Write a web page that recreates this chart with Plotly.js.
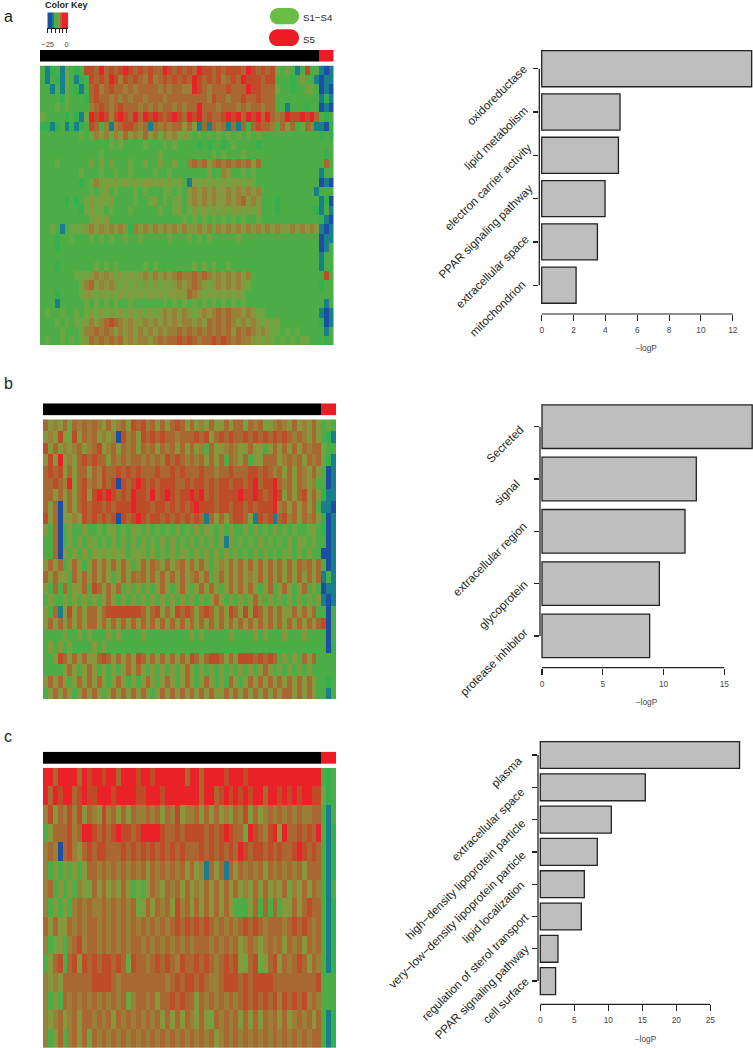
<!DOCTYPE html>
<html><head><meta charset="utf-8">
<script src="https://cdn.plot.ly/plotly-3.0.1.min.js"></script>
<style>html,body{margin:0;padding:0;background:#fff}#g{width:753px;height:1048px}</style>
</head><body><div id="g"></div>
<script>
// Heat maps: each digit is a colour level (0 blue ... 3 green ... 7 brown ... 9 red)
var heatA = [
"3123143238 8797878987 8787798787 8798878788 8798787843 5313833101",
"3132143123 8787986878 7686787878 7987878678 7988878833 3235331011",
"3313143213 7867877676 7777676776 6987677787 7798877743 3233543010",
"3333243332 7877676767 7677767777 7777687767 7877877733 3333333121",
"3334343333 6787678777 6767677676 7797776777 6767767733 1333233010",
"4333323214 9898689879 7989878987 9897877898 9798979767 9889897323",
"2212312123 8736167887 6717676775 7517176717 1737877637 5734761102",
"3333333343 4656465756 5756465645 4343434343 4343433333 3333333232",
"3333333333 3333434333 3433343433 3323233234 3333233333 3333333333",
"3333333333 3343333333 3333433333 3333343433 3433333333 3333333323",
"3334333333 5353533343 3533533533 6767567676 7675733333 3333333373",
"3333333343 3343343343 3334334333 3333533653 3434333333 3333333133",
"3333333323 4645454545 4554545453 1545454545 5454333333 3333333010",
"3333333333 4345343334 3433344343 5656565565 6565633333 3333331333",
"3333323234 5454533334 3345343453 5656565565 6756533323 3333333120",
"3333333324 5443433343 3333433453 4545454545 5454533323 3333332131",
"3333333333 4545333333 3333333334 3434343434 3433433333 3333333210",
"3343134445 6565656526 5656565656 5565646565 6565656565 5656565101",
"3332334333 4343433433 4333334333 4343433333 4333333333 3333333011",
"3332333333 3333333333 3333333333 3333333333 3333333333 3333333013",
"3333333333 3333333333 3333333333 3333333333 3333333333 3333333133",
"3332333333 3434343333 3434333333 3434343343 3333333333 3333333133",
"3333333444 5656545454 5656565676 6767656565 6563333333 3333333383",
"3333333346 7565654545 4545454565 6765456565 6543333333 3333333233",
"3332333345 5454545454 5454545555 7654545454 5433333333 3333333333",
"3331333334 3434343343 3333343434 3434343434 3433333333 3333333313",
"3433433434 5454545454 5454565656 5456567676 6565443333 3333333101",
"3334343445 6567876565 5656565656 6565767676 5656545453 3333333201",
"3333433346 6767656565 6565656676 7676767675 7676565443 4343333313",
"3433434345 7676767565 6656767787 8767787876 7665545434 3434433323"
];
var heatB = [
"7565747676 7657567587 8675757875 7565755757 7476745676 5756575343",
"5658548576 7565608675 8787877677 7878578787 7878787878 7676575321",
"8575656756 7856757675 7675767575 7563755676 5575535757 5757677433",
"5859565787 8775767677 6767687876 7675757376 5735577756 7675767421",
"7878575775 7687787878 7778778787 7787767787 7788787675 7576575301",
"7787695786 7687808789 8787888778 7887878878 8789788976 7576563301",
"7757575785 8989878798 8797898788 9897878888 9889878985 7578575211",
"7570575787 8878788898 8878878787 8988878878 8787888967 5757573110",
"8570556587 8787808789 8788787878 7871757578 8751878178 6757675201",
"5370353353 3434534354 3534343534 3535435353 3535343534 3433453201",
"3370353535 4343535353 5343535343 5353535153 4343534343 5354353301",
"3370535353 5454545354 5353435354 3535353535 3435353434 5353533001",
"5757357535 7575757535 7576575675 7575356575 7575757575 7576757301",
"7575537575 7575357576 7575757575 6757357575 7565757575 7575757131",
"5373735573 8757573535 3535753575 3575753575 7575357357 5357353011",
"3533535353 5357535353 5353535353 5353575353 5357535353 5353535101",
"5371585757 7578888888 7578575878 7578757587 5858757575 5757573303",
"5757575757 7575757575 7575757575 7575757575 7575757575 7575757803",
"3333533535 3335353333 5333333333 5353333353 3335353335 3335333303",
"3535353333 5353333333 3333333333 3333333333 3333333333 3333333302",
"3358757575 5787575758 7575757575 8757887575 8887878735 3537573333",
"3333575357 5353535757 5353535357 5353535353 5353575353 5353533333",
"5757535757 5753575353 5753575357 5357535375 3575757575 7575753323",
"3575753575 7535757575 7535757575 7575755757 5757575757 7575753313"
];
var heatC = [
"9979999798 9989979998 9989999997 9979999899 9899999999 9999999323",
"9798997898 8999899998 8999899999 9979978989 8989979989 8989988423",
"6857686857 6586757576 6767576856 6757575657 6857567676 7676677313",
"3577786799 8787898878 9999877878 8887878987 7498768959 7787879312",
"6760786578 7887778787 8787878787 7787878787 9878878787 7898787312",
"6353535357 7676767676 7576767675 7561757175 7676757676 7675777312",
"6735353654 7575657534 3576576757 5657575757 5657575657 4657576313",
"6353536767 6676767674 5757675867 5757575753 3357373735 5757877312",
"7575576767 7676767676 7676767878 7878767676 7878767776 7878767312",
"6345367867 7676767677 6767676767 6777676767 5676567675 7675767312",
"3578378587 8788787487 7678787687 7878767878 5478457857 6787576312",
"6565777777 8888767777 7777767878 8787667888 7878888777 7777778333",
"6353767676 7676767467 7675778787 7576767676 7878787868 7878676333",
"6567567577 6767576767 6767575757 6575476767 5757576757 5676757312",
"6357367574 7676767676 7676767676 7676756767 6767676767 6767677312"
];
// Sample group strip: number of S1-S4 and S5 columns, out of the 60 columns above
var groupS14 = 57, groupS5 = 3;
// Enrichment bars
var catsA = ["oxidoreductase","lipid metabolism","electron carrier activity","PPAR signaling pathway","extracellular space","mitochondrion"];
var valsA = [13.19,4.92,4.82,3.98,3.5,2.16];
var ticksA = [0,2,4,6,8,10,12];
var catsB = ["Secreted","signal","extracellular region","glycoprotein","protease inhibitor"];
var valsB = [17.3,12.7,11.77,9.66,8.86];
var ticksB = [0,5,10,15];
var catsC = ["plasma","extracellular space","high\u2212density lipoprotein particle","very\u2212low\u2212density lipoprotein particle","lipid localization","regulation of sterol transport","PPAR signaling pathway","cell surface"];
var valsC = [29.3,15.44,10.44,8.38,6.47,6.03,2.6,2.25];
var ticksC = [0,5,10,15,20,25];
// Colour key
var keyValues = [-24,-21.25,-18.5,-15.75,-13,-10.25,-7.5,-4.75,-2,0.75];
var keyLevels = [0,0,1,3,3,5,7,9,9,9];
var keyTicks = [-25,-20,-15,-10,-5,0];
var keyLabels = ["\u221225","","","","","0"];

// Where each slanted category label ends on the page (they were hand placed in the original)
var labelEndA = [[525,66.7],[526,108],[529.3,145],[530,186.7],[526,236.7],[523,283]];
var labelEndB = [[521.7,426.7],[517.3,481],[525,523.3],[525,581.7],[526,630]];
var labelEndC = [[520,757.7],[521.7,790],[522.7,821],[523.3,853.3],[522.3,882.3],[526.7,915],[526.7,946.7],[526,979.3]];

var W=753,H=1048;
function X(p){return p/W;} function Y(p){return 1-p/H;}
var FONT='"Liberation Sans", Arial, sans-serif';
var scale=[[0,'#1c4fa3'],[0.111,'#1a7f8c'],[0.222,'#35b04e'],[0.333,'#4cad46'],[0.444,'#6ba642'],[0.556,'#86983e'],[0.667,'#9a7f38'],[0.778,'#a96732'],[0.889,'#bf4c29'],[1,'#ea2228']];
function parse(rows){return rows.map(function(r){return r.replace(/ /g,'').split('').map(Number);});}

var data=[],layout={width:W,height:H,margin:{l:0,r:0,t:0,b:0},paper_bgcolor:'#fff',plot_bgcolor:'#fff',showlegend:false,
  font:{family:FONT,color:'#231f20'},shapes:[],annotations:[]};
var axN=0;
function sub(xd,yd,xa,ya){axN++;var s=axN===1?'':axN;
  layout['xaxis'+s]=Object.assign({domain:[X(xd[0]),X(xd[1])],anchor:'y'+s,showgrid:false,zeroline:false},xa);
  layout['yaxis'+s]=Object.assign({domain:[Y(yd[1]),Y(yd[0])],anchor:'x'+s,showgrid:false,zeroline:false},ya);
  return {x:'x'+s,y:'y'+s};}
var hid={showticklabels:false,ticks:'',showline:false};

function heat(rows,xd,yd){var m=parse(rows);
  var a=sub(xd,yd,Object.assign({range:[-0.5,m[0].length-0.5]},hid),Object.assign({range:[m.length-0.5,-0.5]},hid));
  data.push({type:'heatmap',z:m,zmin:0,zmax:9,colorscale:scale,showscale:false,hoverinfo:'skip',xaxis:a.x,yaxis:a.y});}
function strip(xd,yd){var z=[];for(var i=0;i<groupS14;i++)z.push(0);for(i=0;i<groupS5;i++)z.push(1);
  var a=sub(xd,yd,Object.assign({range:[-0.5,z.length-0.5]},hid),Object.assign({range:[-0.5,0.5]},hid));
  data.push({type:'heatmap',z:[z],zmin:0,zmax:1,colorscale:[[0,'#000'],[1,'#ed1c24']],showscale:false,hoverinfo:'skip',xaxis:a.x,yaxis:a.y});}
function bars(c,v,t,ends,p){
  var xr=[(p.axisX-p.x0)/p.sx,(W-p.x0)/p.sx];
  var yr=[(p.axisY-p.c0)/p.step,(p.top-p.c0)/p.step];
  var a=sub([p.axisX,W],[p.top,p.axisY],
    {range:xr,tickmode:'array',tickvals:t,ticks:'outside',ticklen:6,tickwidth:1.1,tickcolor:'#222',showline:false,
     tickfont:{size:8.3,color:'#444',family:FONT},ticklabelstandoff:2,
     title:{text:'\u2212logP',font:{size:8.3,color:'#444',family:FONT},standoff:11}},
    {type:'category',categoryorder:'array',categoryarray:c,range:yr,tickmode:'array',tickvals:c,ticktext:c,showticklabels:false,ticks:'outside',ticklen:5.3,tickwidth:1.2,tickcolor:'#222',showline:false});
  data.push({type:'bar',orientation:'h',x:v,y:c,xaxis:a.x,yaxis:a.y,marker:{color:'#bebebe',line:{color:'#222',width:1.3}},hoverinfo:'skip'});
  layout.bargap=1-1/1.2;
  layout.shapes.push({type:'line',xref:'paper',yref:a.y,x0:X(p.axisX),x1:X(p.axisX),y0:c[0],y1:c[c.length-1],line:{color:'#222',width:1.3}});
  layout.shapes.push({type:'line',xref:a.x,yref:'paper',x0:t[0],x1:t[t.length-1],y0:Y(p.axisY),y1:Y(p.axisY),line:{color:'#222',width:1.2}});
  c.forEach(function(name,i){
    layout.annotations.push({text:name,xref:'paper',yref:a.y,x:X(ends[i][0]+4.5),y:name,yshift:(p.c0+i*p.step)-ends[i][1]+4.5,
      showarrow:false,textangle:-45,xanchor:'right',yanchor:'top',borderpad:0,borderwidth:0,font:{size:11.7,family:FONT,color:'#231f20'}});
  });
}
function pill(x0,x1,y0,y1,col){var r=(y1-y0)/2,k=r*0.55;
  var P=function(x,y){return X(x).toFixed(5)+','+Y(y).toFixed(5);};
  var d='M'+P(x0+r,y0)+' L'+P(x1-r,y0)+' C'+P(x1-r+k,y0)+' '+P(x1,y0+r-k)+' '+P(x1,y0+r)+' C'+P(x1,y1-r+k)+' '+P(x1-r+k,y1)+' '+P(x1-r,y1)+
        ' L'+P(x0+r,y1)+' C'+P(x0+r-k,y1)+' '+P(x0,y1-r+k)+' '+P(x0,y0+r)+' C'+P(x0,y0+r-k)+' '+P(x0+r-k,y0)+' '+P(x0+r,y0)+' Z';
  layout.shapes.push({type:'path',xref:'paper',yref:'paper',path:d,fillcolor:col,line:{width:0}});}
function note(t,x,y,size,o){layout.annotations.push(Object.assign({text:t,xref:'paper',yref:'paper',x:X(x),y:Y(y),showarrow:false,xanchor:'left',yanchor:'middle',font:{size:size,family:FONT,color:'#231f20'}},o||{}));}

heat(heatA,[40,333.5],[65.5,345]);  strip([40,333.5],[50,61.5]);
heat(heatB,[43,336],[419.3,699]);   strip([43,336],[403.3,415.5]);
heat(heatC,[43,336],[767.7,1048]);  strip([43,336],[751.7,764]);

bars(catsA,valsA,ticksA,labelEndA,{axisX:539.3,x0:541.7,sx:15.92,top:50,axisY:314,c0:68.7,step:43.3});
bars(catsB,valsB,ticksB,labelEndB,{axisX:540,x0:542,sx:12.15,top:404,axisY:667.7,c0:426.7,step:52.3});
bars(catsC,valsC,ticksC,labelEndC,{axisX:538,x0:540.3,sx:6.8,top:741,axisY:1004.3,c0:755,step:32.3});

// colour key
var k=sub([47.3,68.3],[12.3,28.3],
  {range:[-25.4,2.1],tickmode:'array',tickvals:keyTicks,ticktext:keyLabels,ticks:'outside',ticklen:4,tickwidth:1,tickcolor:'#222',showline:true,linecolor:'#222',linewidth:1,
   tickfont:{size:7.5,color:'#444',family:FONT},ticklabelstandoff:5},
  Object.assign({range:[-0.5,0.5]},hid));
data.push({type:'heatmap',x:keyValues,z:[keyLevels],zmin:0,zmax:9,colorscale:scale,showscale:false,hoverinfo:'skip',xaxis:k.x,yaxis:k.y});

note('<b>Color Key</b>',66,5,9,{xanchor:'center'});
pill(270,299,8,24.3,'#6abd45'); pill(269,299,29.3,46,'#ed1c24');
note('S1\u2212S4',301,17.5,9.7); note('S5',301,39,9.7);
note('a',2,16.5,16); note('b',2,384,16); note('c',2,736,16);

Plotly.newPlot('g',data,layout,{staticPlot:true,displayModeBar:false});
</script></body></html>
